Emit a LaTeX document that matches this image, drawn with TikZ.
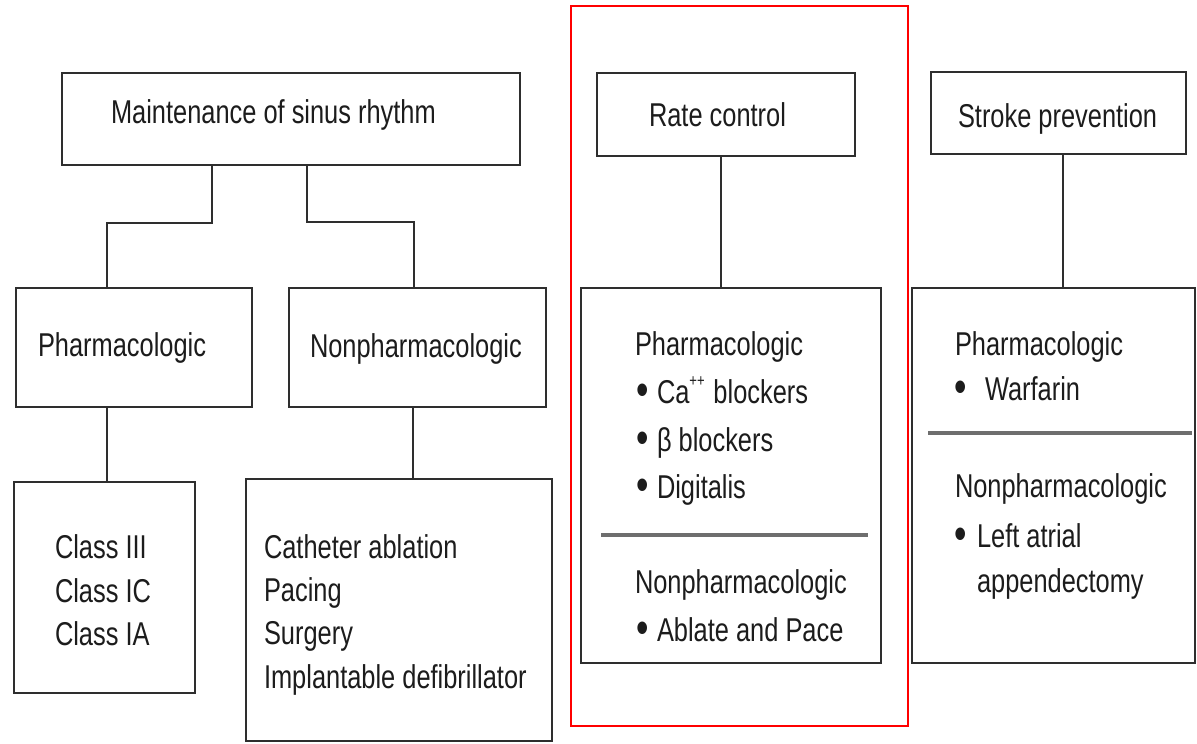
\documentclass[tikz,border=0pt]{standalone}
\usepackage{fontspec}
\setmainfont{Liberation Sans}[FakeStretch=0.77]
\usetikzlibrary{calc}
\definecolor{linec}{HTML}{2E2E2E}
\definecolor{sepc}{HTML}{6E6E6E}
\definecolor{txtc}{HTML}{1C1C1C}
\newcommand\dgfont{\fontsize{33}{40}\selectfont}
\newcommand\supfont{\fontsize{17}{17}\selectfont}
\newcommand\bulfont{\fontsize{46}{46}\selectfont}
\begin{document}
\begin{tikzpicture}[x=1pt,y=-1pt,
  box/.style={draw=linec, line width=1.8pt, inner sep=0pt, outer sep=0pt, anchor=north west},
  txt/.style={anchor=base west, inner sep=0pt, outer sep=0pt, font=\dgfont, text=txtc},
  bul/.style={anchor=base west, inner sep=0pt, outer sep=0pt, font=\bulfont, text=txtc},
  conn/.style={draw=linec, line width=1.4pt},
  sep/.style={draw=sepc, line width=3.4pt}]
\useasboundingbox[fill=white] (0,0) rectangle (1197,744);

% boxes
\node[box, minimum width=458pt, minimum height=92pt] (main) at (62,73) {};
\node[box, minimum width=258pt, minimum height=83pt] (rate) at (597,73) {};
\node[box, minimum width=255pt, minimum height=82pt] (stroke) at (931,72) {};
\node[box, minimum width=236pt, minimum height=119pt] (pharm) at (16,288) {};
\node[box, minimum width=257pt, minimum height=119pt] (nonph) at (289,288) {};
\node[box, minimum width=181pt, minimum height=211pt] (cls) at (14,482) {};
\node[box, minimum width=306pt, minimum height=262pt] (npl) at (246,479) {};
\node[box, minimum width=300pt, minimum height=375pt] (ratel) at (581,288) {};
\node[box, minimum width=283pt, minimum height=375pt] (strokel) at (912,288) {};

% highlight
\node[draw=red, line width=2.4pt, inner sep=0pt, outer sep=0pt, anchor=north west,
      minimum width=337pt, minimum height=720pt] (hl) at (571,6) {};

% separators
\draw[sep] ($(ratel.north west)+(20,247)$) -- ($(ratel.north west)+(287,247)$);
\draw[sep] ($(strokel.north west)+(16,145)$) -- ($(strokel.north west)+(280,145)$);

% connectors
\draw[conn] ($(main.south west)+(150,0)$) -- ($(main.south west)+(150,58)$) -| ($(pharm.north west)+(91,0)$);
\draw[conn] ($(main.south west)+(245,0)$) -- ($(main.south west)+(245,57)$) -| ($(nonph.north west)+(125,0)$);
\draw[conn] ($(pharm.south west)+(91,0)$) -- ($(cls.north west)+(93,0)$);
\draw[conn] ($(nonph.south west)+(124,0)$) -- ($(npl.north west)+(167,0)$);
\draw[conn] ($(rate.south west)+(124,0)$) -- ($(ratel.north west)+(140,0)$);
\draw[conn] ($(stroke.south west)+(132,0)$) -- ($(strokel.north west)+(151,0)$);

% texts
\node[txt] (t-main) at (111,123) {Maintenance of sinus rhythm};
\node[txt] (t-rate) at (649,126) {Rate control};
\node[txt] (t-stroke) at (958,127) {Stroke prevention};
\node[txt] (t-pharm) at (38,356) {Pharmacologic};
\node[txt] (t-nonph) at (310,357) {Nonpharmacologic};

\node[txt] (c1) at (55,558) {Class III};
\node[txt] (c2) at (55,602) {Class IC};
\node[txt] (c3) at (55,645) {Class IA};

\node[txt] (n1) at (264,558) {Catheter ablation};
\node[txt] (n2) at (264,601) {Pacing};
\node[txt] (n3) at (264,644) {Surgery};
\node[txt] (n4) at (264,688) {Implantable defibrillator};

\node[txt] (r0) at (635,355) {Pharmacologic};
\node[bul] (rb1) at (636,405) {•};
\node[txt] (r1) at (657,403) {Ca\raisebox{0.5em}{\supfont ++}\hspace{0.05em} blockers};
\node[bul] (rb2) at (636,453) {•};
\node[txt] (r2) at (657,451) {β blockers};
\node[bul] (rb3) at (636,500) {•};
\node[txt] (r3) at (657,498) {Digitalis};
\node[txt] (r4) at (635,593) {Nonpharmacologic};
\node[bul] (rb5) at (636,643) {•};
\node[txt] (r5) at (657,641) {Ablate and Pace};

\node[txt] (s0) at (955,355) {Pharmacologic};
\node[bul] (sb1) at (954,402) {•};
\node[txt] (s1) at (985,400) {Warfarin};
\node[txt] (s2) at (955,497) {Nonpharmacologic};
\node[bul] (sb3) at (954,549) {•};
\node[txt] (s3) at (977,547) {Left atrial};
\node[txt] (s4) at (977,592) {appendectomy};
\end{tikzpicture}
\end{document}
